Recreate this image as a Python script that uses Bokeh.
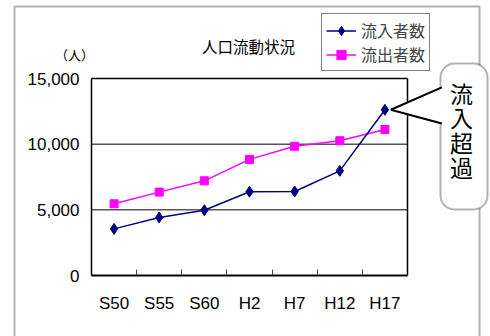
from bokeh.plotting import figure
from bokeh.models import (Range1d, FixedTicker, NumeralTickFormatter, Legend, LegendItem,
                          BoxAnnotation, PolyAnnotation, Arrow, Label, LinearAxis)
from bokeh.embed import file_html
from bokeh.resources import INLINE

# Survey years (Showa / Heisei) and population movement counts
categories = ["S50", "S55", "S60", "H2", "H7", "H12", "H17"]
inflow = [3550, 4420, 4970, 6380, 6400, 7970, 12620]
outflow = [5460, 6350, 7210, 8840, 9840, 10260, 11120]
series_names = ["流入者数", "流出者数"]
y_ticks = [0, 5000, 10000, 15000]
title_text = "人口流動状況"
unit_text = "（人）"
callout_text = "流入超過"

JP = "Noto Sans CJK JP"
NUM = "Liberation Sans"
NAVY = "#000080"
MAGENTA = "#FF00FF"

W, H = 490, 336
# plot-area box inside the canvas (pixels): the frame covers the whole canvas
PA_LEFT, PA_RIGHT, PA_TOP, PA_BOTTOM = 91, 407, 78, 275

xs = list(range(len(categories)))
x0, x1 = -0.5, len(categories) - 0.5
y0, y1 = 0, y_ticks[-1]
px_x = (PA_RIGHT - PA_LEFT) / (x1 - x0)
px_y = (PA_BOTTOM - PA_TOP) / (y1 - y0)

p = figure(width=W, height=H, output_backend="svg", toolbar_location=None,
           x_range=Range1d(x0 - PA_LEFT / px_x, x1 + (W - PA_RIGHT) / px_x),
           y_range=Range1d(y0 - (H - PA_BOTTOM) / px_y, y1 + PA_TOP / px_y),
           min_border=0, min_border_left=0, min_border_right=0,
           min_border_top=0, min_border_bottom=0,
           background_fill_color="white", border_fill_color="white")
p.outline_line_color = None
p.xgrid.visible = False
p.ygrid.visible = False

# y axis pinned to the left edge of the plot area
p.yaxis.fixed_location = x0
p.yaxis.bounds = (y0, y1)
p.yaxis.ticker = FixedTicker(ticks=y_ticks)
p.yaxis.formatter = NumeralTickFormatter(format="0,0")
p.yaxis.major_tick_in = 0
p.yaxis.major_tick_out = 0
p.yaxis.minor_tick_in = 0
p.yaxis.minor_tick_out = 0
p.yaxis.axis_line_color = "black"
p.yaxis.axis_line_width = 1.5
p.yaxis.major_label_standoff = 12
p.yaxis.major_label_text_font = NUM
p.yaxis.major_label_text_font_size = "17px"
p.yaxis.major_label_text_color = "black"

# x axis pinned to zero: labels at category centres, inward ticks between categories
p.xaxis.fixed_location = y0
p.xaxis.bounds = (x0, x1)
p.xaxis.ticker = FixedTicker(ticks=xs, minor_ticks=[i + 0.5 for i in xs[:-1]])
p.xaxis.major_label_overrides = {i: c for i, c in zip(xs, categories)}
p.xaxis.major_tick_in = 0
p.xaxis.major_tick_out = 0
p.xaxis.minor_tick_in = 6
p.xaxis.minor_tick_out = 0
p.xaxis.minor_tick_line_color = "#444444"
p.xaxis.axis_line_color = "black"
p.xaxis.axis_line_width = 2
p.xaxis.major_label_standoff = 18
p.xaxis.major_label_text_font = NUM
p.xaxis.major_label_text_font_size = "17px"
p.xaxis.major_label_text_color = "black"

# top and right edges of the plot area: bare axis lines
def edge_axis(loc, bounds):
    return LinearAxis(fixed_location=loc, bounds=bounds, ticker=FixedTicker(ticks=[]),
                      major_tick_in=0, major_tick_out=0, minor_tick_in=0, minor_tick_out=0,
                      major_label_text_font_size="0px", axis_line_color="black",
                      axis_line_width=1.5)

p.add_layout(edge_axis(y1, (x0, x1)), "above")
p.add_layout(edge_axis(x1, (y0, y1)), "right")

# horizontal gridlines across the plot area
grid_y = y_ticks[1:-1]
p.segment(x0=[x0] * len(grid_y), y0=grid_y, x1=[x1] * len(grid_y), y1=grid_y,
          line_color="black", line_width=1)

# series
l_out = p.line(xs, outflow, line_color=MAGENTA, line_width=1.5)
s_out = p.scatter(xs, outflow, marker="square", size=8, fill_color=MAGENTA, line_color=MAGENTA)
l_in = p.line(xs, inflow, line_color=NAVY, line_width=1.5)
s_in = p.scatter(xs, inflow, marker="diamond", size=11, fill_color=NAVY, line_color=NAVY)

# outer chart frame
p.add_layout(BoxAnnotation(left=14, right=479, top=6, bottom=H + 2,
                           left_units="canvas", right_units="canvas",
                           top_units="canvas", bottom_units="canvas",
                           fill_color="white", fill_alpha=0, line_color="black",
                           line_width=2))

legend = Legend(items=[LegendItem(label=series_names[0], renderers=[l_in, s_in]),
                       LegendItem(label=series_names[1], renderers=[l_out, s_out])],
                location=(321, 265), orientation="vertical",
                border_line_color="black", border_line_width=1,
                background_fill_color="white", background_fill_alpha=1,
                padding=4, spacing=0, margin=0, glyph_width=30, glyph_height=23,
                label_standoff=5, label_text_font=JP, label_text_font_size="16px",
                label_height=23)
p.add_layout(legend, "center")

# callout box pointing at the last inflow value
p.add_layout(BoxAnnotation(left=440, right=487, top=63, bottom=209,
                           left_units="canvas", right_units="canvas",
                           top_units="canvas", bottom_units="canvas",
                           fill_color="white", fill_alpha=1, line_color="black",
                           line_width=2, border_radius=14))

tip_x = xs[-1] + 0.13
tip_y = inflow[-1]
base_x = xs[-1] + 1.26
up, down = 1700, 1050
p.add_layout(PolyAnnotation(xs=[tip_x, base_x + 0.06, base_x + 0.06],
                            ys=[tip_y, tip_y + up, tip_y - down],
                            fill_color="white", fill_alpha=1, line_color=None))
p.add_layout(Arrow(end=None, x_start=tip_x, y_start=tip_y, x_end=base_x, y_end=tip_y + up,
                   line_color="black", line_width=2))
p.add_layout(Arrow(end=None, x_start=tip_x, y_start=tip_y, x_end=base_x, y_end=tip_y - down,
                   line_color="black", line_width=2))

for ch, cy in zip(callout_text, [92, 116, 141, 166]):
    p.add_layout(Label(x=461, y=cy, x_units="canvas", y_units="canvas", text=ch,
                       text_align="center", text_baseline="middle", text_font=JP,
                       text_font_size="23px", text_color="black"))

# title and unit
p.add_layout(Label(x=248, y=45, x_units="canvas", y_units="canvas", text=title_text,
                   text_align="center", text_baseline="middle", text_font=JP,
                   text_font_size="15.5px", text_color="black"))
p.add_layout(Label(x=74, y=54, x_units="canvas", y_units="canvas", text=unit_text,
                   text_align="center", text_baseline="middle", text_font=JP,
                   text_font_size="13px", text_color="black"))

open("out.html", "w").write(file_html(p, INLINE))
